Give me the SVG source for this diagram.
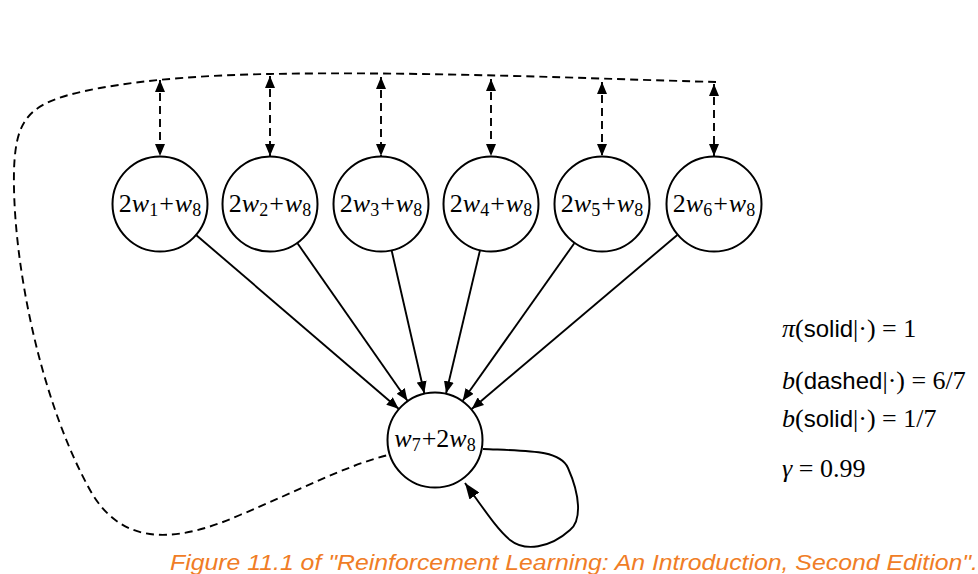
<svg xmlns="http://www.w3.org/2000/svg" width="978" height="574" viewBox="0 0 978 574">
<style>
.node circle{fill:#fff;stroke:#000;stroke-width:2}
.lbl{font-family:"Liberation Serif","DejaVu Serif",serif;font-size:26px;fill:#000}
.it{font-style:italic}
.sub{font-size:18px}
.solid{fill:none;stroke:#000;stroke-width:1.9}
.dash{fill:none;stroke:#000;stroke-width:1.9;stroke-dasharray:8 5}
.m{font-family:"Liberation Serif","DejaVu Serif",serif;font-size:26px;fill:#000}
.sf{font-family:"Liberation Sans","DejaVu Sans",sans-serif;font-size:24px}
.cap{font-family:"Liberation Sans","DejaVu Sans",sans-serif;font-style:italic;font-size:22px;fill:#f07d26}
</style>
<defs>
<marker id="ah" viewBox="0 0 12 10" refX="12" refY="5" markerWidth="12" markerHeight="10" markerUnits="userSpaceOnUse" orient="auto-start-reverse">
<path d="M0,0 L12,5 L0,10 z" fill="#000"/>
</marker>
<marker id="ahb" viewBox="0 0 16 12" refX="16" refY="6" markerWidth="16" markerHeight="12" markerUnits="userSpaceOnUse" orient="auto">
<path d="M0,0 L16,6 L0,12 z" fill="#000"/>
</marker>
</defs>
<g id="connectors">
<path class="dash" d="M716 82 C600 79 420 71 270 74 C210 75 150 79 100 88 C30 101 16 115 14 170 C12 260 40 400 90 490 C118 540 165 548 240 515 C300 490 345 466 388 455"/>
<line class="dash" x1="160" y1="80" x2="160" y2="156" marker-start="url(#ah)" marker-end="url(#ah)"/>
<line class="dash" x1="270" y1="76" x2="270" y2="156" marker-start="url(#ah)" marker-end="url(#ah)"/>
<line class="dash" x1="381" y1="77" x2="381" y2="156" marker-start="url(#ah)" marker-end="url(#ah)"/>
<line class="dash" x1="491" y1="79" x2="491" y2="156" marker-start="url(#ah)" marker-end="url(#ah)"/>
<line class="dash" x1="602" y1="82" x2="602" y2="156" marker-start="url(#ah)" marker-end="url(#ah)"/>
<line class="dash" x1="714" y1="84" x2="714" y2="156" marker-start="url(#ah)" marker-end="url(#ah)"/>
<line class="solid" x1="196.4" y1="235.2" x2="398.6" y2="408.8" marker-end="url(#ah)"/>
<line class="solid" x1="297.5" y1="243.3" x2="407.5" y2="400.7" marker-end="url(#ah)"/>
<line class="solid" x1="391.7" y1="250.8" x2="424.3" y2="393.2" marker-end="url(#ah)"/>
<line class="solid" x1="479.9" y1="250.7" x2="446.1" y2="393.3" marker-end="url(#ah)"/>
<line class="solid" x1="574.3" y1="243.2" x2="462.7" y2="400.8" marker-end="url(#ah)"/>
<line class="solid" x1="677.3" y1="235" x2="471.7" y2="409" marker-end="url(#ah)"/>
<path class="solid" d="M483 449 C530 451 560 450 568 468 C580 495 582 520 570 530 C550 548 525 552 510 540 C498 530 488 515 465 483" marker-end="url(#ahb)"/>
</g>
<g id="n1" class="node"><circle cx="160" cy="204" r="47.5"/><text class="lbl" x="160" y="212" text-anchor="middle">2<tspan class="it">w</tspan><tspan class="sub" dy="4">1</tspan><tspan dy="-4" dx="1">+</tspan><tspan class="it" dx="1">w</tspan><tspan class="sub" dy="4">8</tspan></text></g>
<g id="n2" class="node"><circle cx="270" cy="204" r="47.5"/><text class="lbl" x="270" y="212" text-anchor="middle">2<tspan class="it">w</tspan><tspan class="sub" dy="4">2</tspan><tspan dy="-4" dx="1">+</tspan><tspan class="it" dx="1">w</tspan><tspan class="sub" dy="4">8</tspan></text></g>
<g id="n3" class="node"><circle cx="381" cy="204" r="47.5"/><text class="lbl" x="381" y="212" text-anchor="middle">2<tspan class="it">w</tspan><tspan class="sub" dy="4">3</tspan><tspan dy="-4" dx="1">+</tspan><tspan class="it" dx="1">w</tspan><tspan class="sub" dy="4">8</tspan></text></g>
<g id="n4" class="node"><circle cx="491" cy="204" r="47.5"/><text class="lbl" x="491" y="212" text-anchor="middle">2<tspan class="it">w</tspan><tspan class="sub" dy="4">4</tspan><tspan dy="-4" dx="1">+</tspan><tspan class="it" dx="1">w</tspan><tspan class="sub" dy="4">8</tspan></text></g>
<g id="n5" class="node"><circle cx="602" cy="204" r="47.5"/><text class="lbl" x="602" y="212" text-anchor="middle">2<tspan class="it">w</tspan><tspan class="sub" dy="4">5</tspan><tspan dy="-4" dx="1">+</tspan><tspan class="it" dx="1">w</tspan><tspan class="sub" dy="4">8</tspan></text></g>
<g id="n6" class="node"><circle cx="714" cy="204" r="47.5"/><text class="lbl" x="714" y="212" text-anchor="middle">2<tspan class="it">w</tspan><tspan class="sub" dy="4">6</tspan><tspan dy="-4" dx="1">+</tspan><tspan class="it" dx="1">w</tspan><tspan class="sub" dy="4">8</tspan></text></g>
<g id="n7" class="node"><circle cx="435" cy="440" r="47.5"/><text class="lbl" x="435" y="447" text-anchor="middle"><tspan class="it">w</tspan><tspan class="sub" dy="4">7</tspan><tspan dy="-4" dx="1">+2</tspan><tspan class="it">w</tspan><tspan class="sub" dy="4">8</tspan></text></g>
<g id="legend">
<text class="m" x="782" y="337"><tspan class="it">π</tspan>(<tspan class="sf">solid</tspan>|·) = 1</text>
<text class="m" x="782" y="389"><tspan class="it">b</tspan>(<tspan class="sf">dashed</tspan>|·) = 6/7</text>
<text class="m" x="782" y="427"><tspan class="it">b</tspan>(<tspan class="sf">solid</tspan>|·) = 1/7</text>
<text class="m" x="782" y="477"><tspan class="it">γ</tspan> = 0.99</text>
</g>
<text class="cap" x="170" y="570" textLength="808" lengthAdjust="spacingAndGlyphs">Figure 11.1 of "Reinforcement Learning: An Introduction, Second Edition".</text>
</svg>
